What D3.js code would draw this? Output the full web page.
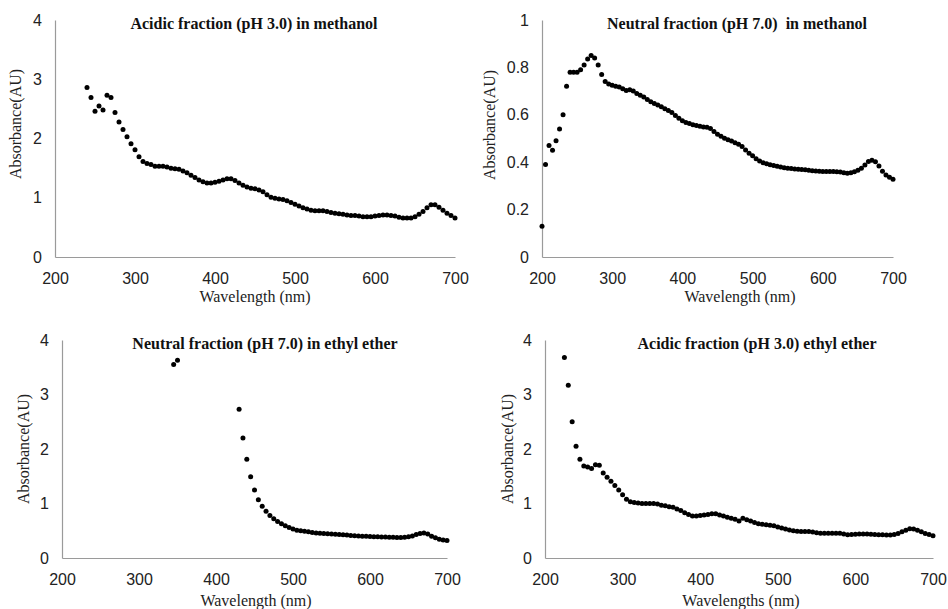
<!DOCTYPE html>
<html>
<head>
<meta charset="utf-8">
<script src="https://cdn.jsdelivr.net/npm/d3@7"></script>
<style>
  html, body { margin: 0; padding: 0; background: #fff; }
  svg { display: block; }
  .tick text { font-family: "Liberation Sans", Arial, sans-serif; font-size: 16px; fill: #222; }
  text.axis-title { font-family: "Liberation Serif", "Times New Roman", serif; font-size: 16px; fill: #222; }
  text.panel-title { font-family: "Liberation Serif", "Times New Roman", serif; font-size: 16px; font-weight: bold; fill: #111; white-space: pre; }
</style>
</head>
<body>
<svg id="chart" width="948" height="609"></svg>
<script>
// Spectra are sampled every 5 nm; each series lists absorbance from its start wavelength.
const stepNm = 5;
const xTicks = [200, 300, 400, 500, 600, 700];
const yTicksWide = [0, 1, 2, 3, 4];
const yTicksNarrow = [0, 0.2, 0.4, 0.6, 0.8, 1];

const acidMeohStart = 240;
const acidMeohAbs = [
  2.86, 2.69, 2.46, 2.55, 2.48, 2.73, 2.69, 2.44, 2.28, 2.15,
  2.03, 1.91, 1.81, 1.69, 1.61, 1.58, 1.56, 1.53, 1.53, 1.53,
  1.52, 1.50, 1.49, 1.48, 1.45, 1.42, 1.38, 1.34, 1.30, 1.27,
  1.25, 1.25, 1.26, 1.28, 1.30, 1.32, 1.32, 1.29, 1.25, 1.21,
  1.18, 1.16, 1.15, 1.13, 1.10, 1.05, 1.01, 0.99, 0.98, 0.97,
  0.95, 0.92, 0.89, 0.86, 0.83, 0.81, 0.79, 0.78, 0.78, 0.78,
  0.77, 0.75, 0.74, 0.73, 0.72, 0.71, 0.70, 0.70, 0.69, 0.68,
  0.68, 0.68, 0.69, 0.70, 0.71, 0.71, 0.70, 0.69, 0.67, 0.66,
  0.66, 0.66, 0.68, 0.72, 0.77, 0.83, 0.88, 0.88, 0.84, 0.79,
  0.74, 0.70, 0.66
];

const neutMeohStart = 200;
const neutMeohAbs = [
  0.13, 0.39, 0.47, 0.45, 0.49, 0.54, 0.60, 0.72, 0.78, 0.78,
  0.78, 0.79, 0.81, 0.835, 0.85, 0.84, 0.81, 0.77, 0.74, 0.73,
  0.725, 0.72, 0.717, 0.71, 0.703, 0.706, 0.70, 0.69, 0.683, 0.675,
  0.665, 0.655, 0.648, 0.641, 0.634, 0.626, 0.618, 0.61, 0.597, 0.585,
  0.575, 0.568, 0.563, 0.558, 0.555, 0.552, 0.549, 0.547, 0.542, 0.53,
  0.518, 0.509, 0.501, 0.495, 0.489, 0.482, 0.476, 0.466, 0.452, 0.438,
  0.427, 0.415, 0.405, 0.398, 0.393, 0.389, 0.386, 0.383, 0.38, 0.377,
  0.375, 0.373, 0.371, 0.37, 0.369, 0.368, 0.366, 0.364, 0.363, 0.362,
  0.361, 0.361, 0.361, 0.361, 0.36, 0.359, 0.356, 0.353, 0.355, 0.36,
  0.366, 0.375, 0.388, 0.403, 0.408, 0.402, 0.384, 0.362, 0.346, 0.336,
  0.328
];

// readings between 355 and 425 nm are off scale (not plotted)
const neutEtherStart = 345;
const neutEtherAbs = [
  3.55, 3.63, null, null, null, null, null, null, null, null,
  null, null, null, null, null, null, null, 2.73, 2.20, 1.81,
  1.49, 1.25, 1.07, 0.95, 0.86, 0.78, 0.72, 0.67, 0.63, 0.59,
  0.56, 0.53, 0.51, 0.50, 0.49, 0.48, 0.47, 0.46, 0.455, 0.45,
  0.445, 0.44, 0.435, 0.43, 0.425, 0.42, 0.415, 0.41, 0.405, 0.40,
  0.40, 0.395, 0.39, 0.39, 0.385, 0.385, 0.38, 0.38, 0.378, 0.378,
  0.38, 0.39, 0.405, 0.43, 0.45, 0.457, 0.44, 0.40, 0.37, 0.345,
  0.33, 0.32
];

const acidEtherStart = 225;
const acidEtherAbs = [
  3.68, 3.17, 2.50, 2.05, 1.81, 1.69, 1.67, 1.64, 1.71, 1.70,
  1.56, 1.48, 1.41, 1.33, 1.25, 1.16, 1.08, 1.03, 1.02, 1.01,
  1.00, 1.00, 1.00, 1.00, 0.99, 0.97, 0.96, 0.94, 0.93, 0.90,
  0.87, 0.83, 0.80, 0.77, 0.77, 0.78, 0.79, 0.80, 0.81, 0.81,
  0.79, 0.77, 0.75, 0.73, 0.71, 0.68, 0.73, 0.70, 0.68, 0.65,
  0.63, 0.62, 0.61, 0.60, 0.59, 0.57, 0.55, 0.53, 0.515, 0.50,
  0.49, 0.485, 0.485, 0.485, 0.475, 0.465, 0.455, 0.455, 0.455, 0.455,
  0.455, 0.455, 0.44, 0.425, 0.43, 0.435, 0.44, 0.44, 0.44, 0.435,
  0.43, 0.425, 0.425, 0.42, 0.42, 0.43, 0.45, 0.48, 0.51, 0.535,
  0.53, 0.51, 0.48, 0.45, 0.43, 0.41
];

const svg = d3.select('#chart');
const serif = '"Liberation Serif", "Times New Roman", serif';

function toPoints(start, values) {
  return values
    .map((v, i) => ({ nm: start + i * stepNm, abs: v }))
    .filter(d => d.abs !== null);
}

function drawPanel(p) {
  const x = d3.scaleLinear().domain([200, 700]).range([p.left, p.right]);
  const y = d3.scaleLinear().domain([0, p.yMax]).range([p.bottom, p.top]);
  const g = svg.append('g');

  const xAxis = g.append('g')
    .attr('transform', `translate(0,${p.bottom})`)
    .call(d3.axisBottom(x).tickValues(xTicks).tickSize(0).tickSizeOuter(0));
  xAxis.selectAll('.tick text').attr('y', 21).attr('dy', '0.35em');

  const yAxis = g.append('g')
    .attr('transform', `translate(${p.left},0)`)
    .call(d3.axisLeft(y).tickValues(p.yTicks).tickSize(0).tickSizeOuter(0)
      .tickPadding(13).tickFormat(d3.format('~g')));

  [xAxis, yAxis].forEach(a => {
    a.select('.domain').attr('stroke', '#9a9a9a').attr('stroke-width', 1.2);
  });

  g.append('text')
    .attr('class', 'panel-title')
    .attr('font-family', serif)
    .attr('x', p.titleX).attr('y', p.top + 5)
    .attr('text-anchor', 'middle')
    .attr('dominant-baseline', 'middle')
    .text(p.title);

  g.append('text')
    .attr('class', 'axis-title')
    .attr('font-family', serif)
    .attr('x', p.xTitleX).attr('y', p.bottom + p.xTitleDy)
    .attr('text-anchor', 'middle')
    .attr('dominant-baseline', 'middle')
    .text(p.xTitle);

  g.append('text')
    .attr('class', 'axis-title')
    .attr('font-family', serif)
    .attr('transform', `translate(${p.yTitleX},${p.yTitleY}) rotate(-90)`)
    .attr('text-anchor', 'middle')
    .attr('dominant-baseline', 'middle')
    .text('Absorbance(AU)');

  g.append('g').selectAll('circle')
    .data(toPoints(p.start, p.values))
    .join('circle')
    .attr('cx', d => x(d.nm))
    .attr('cy', d => y(d.abs))
    .attr('r', 2.5)
    .attr('fill', '#000');
}

drawPanel({
  title: 'Acidic fraction (pH 3.0) in methanol', xTitle: 'Wavelength (nm)',
  start: acidMeohStart, values: acidMeohAbs, yMax: 4, yTicks: yTicksWide,
  left: 55, right: 455, top: 20, bottom: 257,
  titleX: 254, xTitleX: 255, xTitleDy: 41, yTitleX: 17, yTitleY: 124
});
drawPanel({
  title: 'Neutral fraction (pH 7.0)  in methanol', xTitle: 'Wavelength (nm)',
  start: neutMeohStart, values: neutMeohAbs, yMax: 1, yTicks: yTicksNarrow,
  left: 542, right: 893, top: 20, bottom: 257,
  titleX: 737, xTitleX: 740, xTitleDy: 41, yTitleX: 491, yTitleY: 125
});
drawPanel({
  title: 'Neutral fraction (pH 7.0) in ethyl ether', xTitle: 'Wavelength (nm)',
  start: neutEtherStart, values: neutEtherAbs, yMax: 4, yTicks: yTicksWide,
  left: 62, right: 447, top: 340, bottom: 558,
  titleX: 265, xTitleX: 256, xTitleDy: 44, yTitleX: 25, yTitleY: 449
});
drawPanel({
  title: 'Acidic fraction (pH 3.0) ethyl ether', xTitle: 'Wavelengths (nm)',
  start: acidEtherStart, values: acidEtherAbs, yMax: 4, yTicks: yTicksWide,
  left: 545, right: 933, top: 340, bottom: 558,
  titleX: 757, xTitleX: 741, xTitleDy: 44, yTitleX: 509, yTitleY: 449
});
</script>
</body>
</html>
